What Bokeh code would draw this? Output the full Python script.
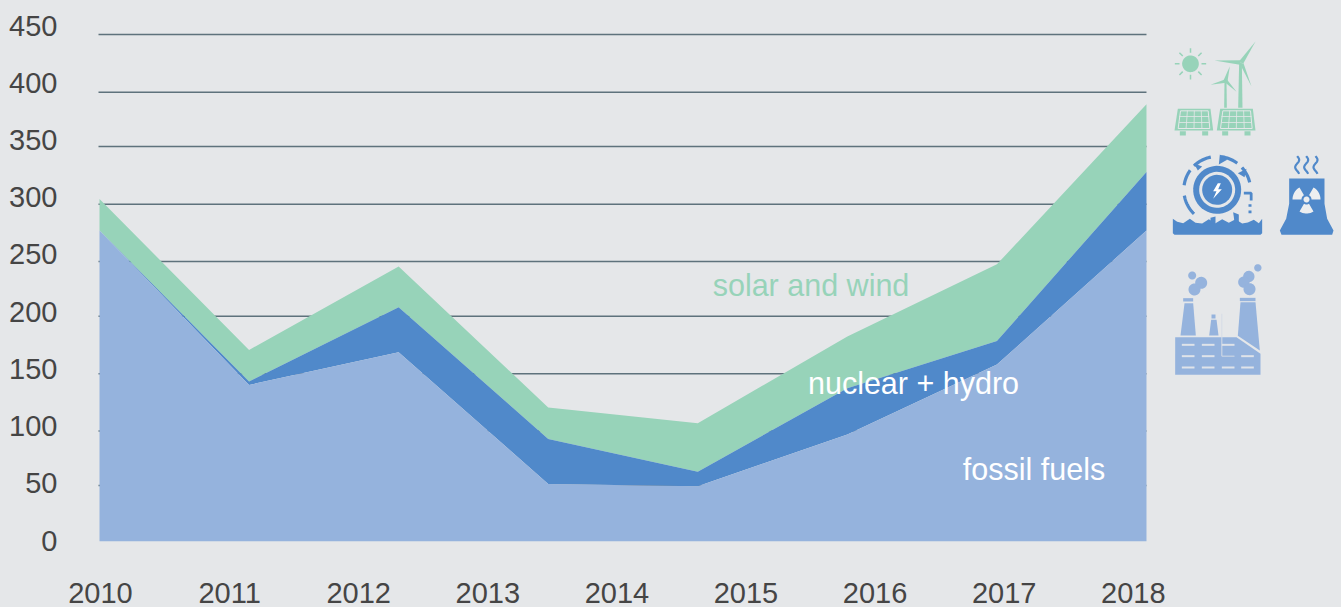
import numpy as np
from bokeh.plotting import figure
from bokeh.models import LinearAxis, Range1d, FixedTicker
from bokeh.core.properties import value
from bokeh.embed import file_html
from bokeh.resources import INLINE

# ---- data ----
point_index = [0, 1, 2, 3, 4, 5, 6, 7]
fossil_fuels = [276, 139, 168, 51, 49, 95, 157, 276]
nuclear_hydro = [0, 3, 40, 40, 13, 41, 21, 52]
solar_wind = [28, 28, 36, 28, 43, 46, 68, 60]
year_ticks = [2010, 2011, 2012, 2013, 2014, 2015, 2016, 2017, 2018]
value_ticks = [0, 50, 100, 150, 200, 250, 300, 350, 400, 450]
grid_levels = [49.7, 98, 149, 200, 248.5, 299.4, 350.6, 398.8, 450]

BG = "#e5e7e9"
FOSSIL = "#95b3dd"
NUCLEAR = "#5089ca"
SOLAR = "#97d3b9"
GRID = "#5e727c"
FONT = "Liberation Sans"
TICK = "#454545"

p = figure(width=1341, height=607, frame_width=1243, frame_height=541,
           output_backend="svg", toolbar_location=None,
           x_axis_location=None, y_axis_location=None,
           x_range=Range1d(-1 / 149.57, 1242 / 149.57),
           y_range=Range1d(0, 541 / 1.12667),
           min_border_left=98, min_border_right=0, min_border_top=0, min_border_bottom=66,
           background_fill_alpha=0, border_fill_alpha=0)
p.styles = {"background-color": BG}
p.outline_line_color = None
p.xgrid.visible = False
p.ygrid.visible = False
p.extra_x_ranges = {"years": Range1d(2010 - 2 / 129.1, 2010 + 1241 / 129.1), "px": Range1d(98, 1341)}
p.extra_y_ranges = {"labels": Range1d(-1 / 1.1444, 540 / 1.1444), "pxy": Range1d(541, 0)}

# axes
yax = LinearAxis(y_range_name="labels", ticker=FixedTicker(ticks=value_ticks))
xax = LinearAxis(x_range_name="years", ticker=FixedTicker(ticks=year_ticks))
for ax, standoff in ((yax, 41), (xax, 41)):
    ax.axis_line_color = None
    ax.major_tick_line_color = None
    ax.minor_tick_line_color = None
    ax.major_tick_in = 0
    ax.major_tick_out = 0
    ax.major_label_text_font = FONT
    ax.major_label_text_font_size = "29px"
    ax.major_label_text_color = TICK
    ax.major_label_standoff = standoff
p.add_layout(yax, "left")
p.add_layout(xax, "below")

# grid lines
p.segment(x0=[point_index[0] - 0.01] * len(grid_levels), x1=[point_index[-1]] * len(grid_levels),
          y0=grid_levels, y1=grid_levels, line_color=GRID, line_width=1.5)

# stacked areas
f = np.array(fossil_fuels, float)
n = f + np.array(nuclear_hydro, float)
s = n + np.array(solar_wind, float)
p.varea(x=point_index, y1=n, y2=s, fill_color=SOLAR)
p.varea(x=point_index, y1=f, y2=n, fill_color=NUCLEAR)
p.varea(x=point_index, y1=0, y2=f, fill_color=FOSSIL)

# in-chart labels
px = dict(x_range_name="px", y_range_name="pxy")
p.text(x=[810.5], y=[284], text=["solar and wind"], text_color=SOLAR, text_font=value(FONT),
       text_font_size="30.5px", text_align="center", text_baseline="middle", **px)
p.text(x=[913, 1033.5], y=[382, 468], text=["nuclear + hydro", "fossil fuels"], text_color="#ffffff",
       text_font=value(FONT), text_font_size="30.5px", text_align="center", text_baseline="middle", **px)


# ---- icons (decoration, drawn in page pixels) ----
def poly(pts, color, ox=1160, oy=30):
    xs = [ox + a / 3 for a, _ in pts]
    ys = [oy + b / 3 for _, b in pts]
    p.patch(xs, ys, fill_color=color, line_color=None, **px)


def ln(pts, color, w, ox=1160, oy=30):
    p.line([ox + a / 3 for a, _ in pts], [oy + b / 3 for _, b in pts], line_color=color, line_width=w, **px)


def circ(cx, cy, r, color, ox=1160, oy=30):
    t = np.linspace(0, 2 * np.pi, 48)
    poly(list(zip(cx + r * np.cos(t), cy + r * np.sin(t))), color, ox, oy)


def arc(cx, cy, r, a0, a1, color, w, ox=1160, oy=30):
    t = np.radians(np.linspace(a0, a1, 16))
    ln(list(zip(cx + r * np.cos(t), cy + r * np.sin(t))), color, w, ox, oy)


# sun
circ(90, 100, 25, SOLAR)
for a in range(0, 360, 45):
    t = np.radians(a)
    ln([(90 + 33 * np.cos(t), 100 + 33 * np.sin(t)), (90 + 47 * np.cos(t), 100 + 47 * np.sin(t))], SOLAR, 1.5)

# turbines
poly([(236, 95), (244, 95), (246, 232), (233, 232)], SOLAR)
poly([(236, 92), (285, 33), (248, 100)], SOLAR)
poly([(240, 89), (162, 90), (238, 103)], SOLAR)
poly([(238, 100), (249, 98), (273, 168)], SOLAR)
poly([(192, 152), (198, 152), (199, 232), (191, 232)], SOLAR)
poly([(189, 150), (208, 107), (201, 153)], SOLAR)
poly([(195, 146), (150, 163), (197, 157)], SOLAR)
poly([(191, 154), (200, 148), (228, 184)], SOLAR)

# solar panels
for dx in (0, 127):
    poly([(52 + dx, 235), (150 + dx, 235), (158 + dx, 300), (42 + dx, 300)], SOLAR)
    for c in range(1, 4):
        x0 = 60 + dx + c * 83 / 4
        x1 = 53 + dx + c * 95 / 4
        ln([(x0, 240), (x1, 294)], BG, 0.8)
    for yy in (258, 276):
        ln([(56 + dx, yy), (146 + dx, yy)], BG, 0.8)
    ln([(60 + dx, 241), (143 + dx, 241), (148 + dx, 294), (53 + dx, 294), (60 + dx, 241)], BG, 1.0)
    for fx in (58, 125):
        poly([(fx + dx, 302), (fx + 18 + dx, 302), (fx + 18 + dx, 315), (fx + dx, 315)], SOLAR)

# hydro wheel
circ(170, 478, 72, NUCLEAR)
circ(170, 478, 54, BG)
circ(170, 478, 45, NUCLEAR)
poly([(172, 458), (158, 482), (168, 482), (158, 505), (184, 476), (173, 476), (181, 458)], "#ffffff")
for a0, a1 in ((-134, -101), (-85, -53), (-42, -13), (-144, -172), (170, 134)):
    arc(170, 478, 100, a0, a1, NUCLEAR, 3.2)
poly([(100, 398), (125, 408), (112, 420)], NUCLEAR)
poly([(178, 372), (200, 388), (175, 402)], NUCLEAR)
poly([(232, 428), (258, 415), (252, 440)], NUCLEAR)
ln([(250, 488), (272, 488), (272, 510)], NUCLEAR, 2.8)
for yy in (521, 540):
    poly([(264, yy), (273, yy), (273, yy + 8), (264, yy + 8)], NUCLEAR)
wave_x = [37, 50, 68, 88, 105, 125, 145, 165, 185, 205, 225, 245, 262, 280, 295, 305]
wave_y = [565, 574, 578, 565, 577, 579, 566, 578, 566, 577, 566, 579, 576, 568, 578, 565]
poly(list(zip(wave_x, wave_y)) + [(305, 608), (300, 613), (42, 613), (37, 608)], NUCLEAR)
poly([(150, 562), (165, 558), (165, 578), (150, 578)], NUCLEAR)
poly([(218, 545), (235, 552), (235, 575), (222, 575)], NUCLEAR)

# cooling tower
poly([(386, 444), (492, 444), (492, 520), (500, 565), (519, 600), (515, 613), (363, 613), (358, 600),
      (377, 565), (386, 520)], NUCLEAR)
RAD = "#eceef0"
circ(438, 507, 9, RAD)
for a in (-30, -150, 90):
    t = np.radians(np.linspace(a - 30, a + 30, 10))
    o = [(438 + 42 * np.cos(v), 507 + 42 * np.sin(v)) for v in t]
    i = [(438 + 15 * np.cos(v), 507 + 15 * np.sin(v)) for v in t[::-1]]
    poly(o + i, RAD)
for sx in (410, 437, 465):
    ys = np.linspace(377, 430, 24)
    ln([(sx + 6 * np.sin((v - 377) / 53 * 2 * np.pi * 1.2), v) for v in ys], NUCLEAR, 2.2)

# factory
O = dict(ox=1160, oy=250)
poly([(44, 260), (228, 260), (300, 310), (300, 373), (44, 373)], FOSSIL, **O)
poly([(72, 158), (98, 158), (106, 255), (60, 255)], FOSSIL, **O)
poly([(68, 143), (98, 143), (98, 153), (68, 153)], FOSSIL, **O)
poly([(152, 208), (168, 208), (174, 255), (146, 255)], FOSSIL, **O)
poly([(153, 192), (165, 192), (165, 204), (153, 204)], FOSSIL, **O)
poly([(240, 155), (285, 155), (298, 300), (232, 256)], FOSSIL, **O)
poly([(238, 142), (285, 142), (285, 152), (238, 152)], FOSSIL, **O)
for cx, cy, r in ((95, 75, 12), (122, 97, 18), (102, 117, 18), (292, 52, 11), (265, 78, 17), (250, 95, 17),
                  (267, 116, 18)):
    circ(cx, cy, r, FOSSIL, **O)
ln([(184, 190), (184, 317), (222, 317)], "#d5dce6", 1, **O)
for row, xs_ in ((283, (64, 124, 184)), (317, (64, 124, 242)), (351, (64, 124, 184, 242))):
    for xx in xs_:
        ln([(xx, row), (xx + 38, row)], "#dfe3e9", 2, **O)

open("out.html", "w").write(file_html(p, INLINE))
